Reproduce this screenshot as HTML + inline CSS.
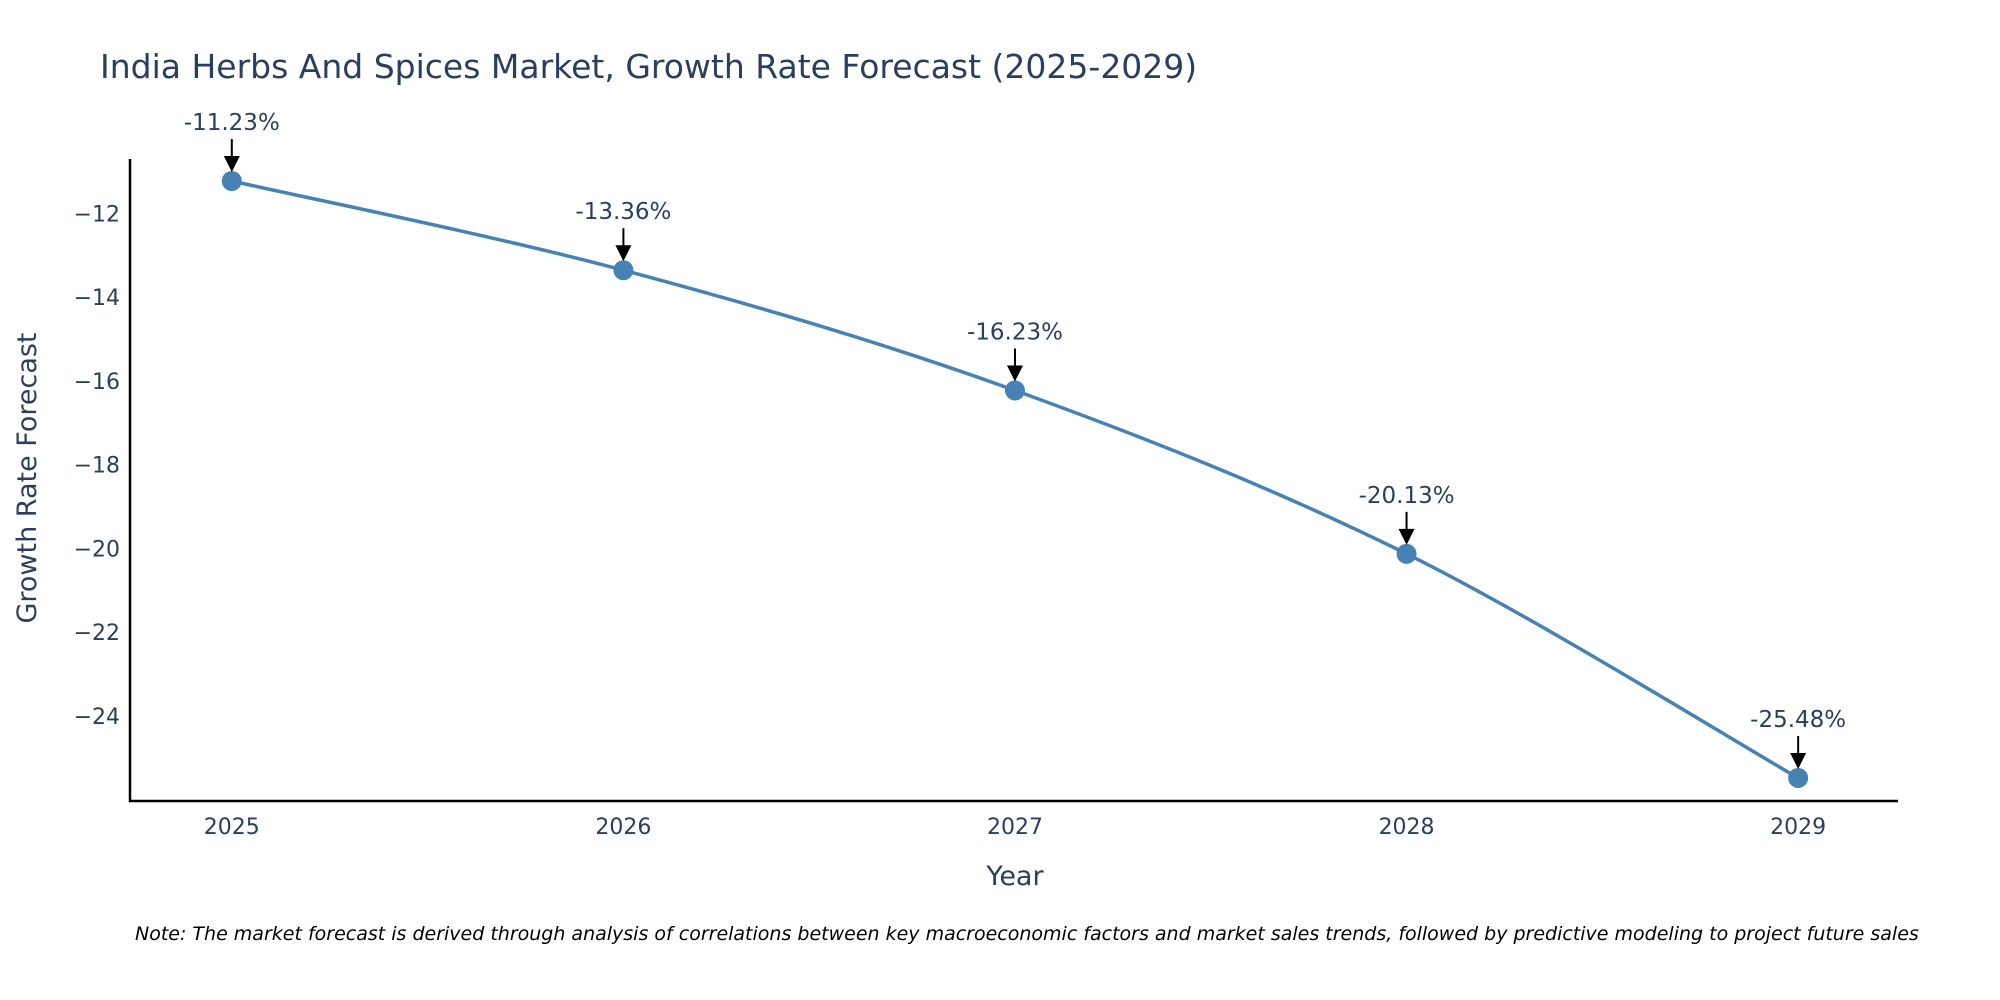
<!DOCTYPE html>
<html><head><meta charset="utf-8"><style>
html,body{margin:0;padding:0;background:#fff;width:2000px;height:1000px;overflow:hidden;font-family:"DejaVu Sans","Liberation Sans",sans-serif;}
svg text{font-family:"DejaVu Sans","Liberation Sans",sans-serif;}
</style></head><body>
<svg id="chart" width="2000" height="1000" xmlns="http://www.w3.org/2000/svg">
<text x="100" y="78" font-size="33" fill="#2a3f5f">India Herbs And Spices Market, Growth Rate Forecast (2025-2029)</text>
<g id="grid"></g>
<g id="marks"></g>
<line x1="130" y1="159" x2="130" y2="802" stroke="#000" stroke-width="2.5"/>
<line x1="129" y1="801" x2="1898" y2="801" stroke="#000" stroke-width="2.5"/>
<text x="1015" y="885" font-size="27" fill="#2a3f5f" text-anchor="middle">Year</text>
<text x="36" y="478" font-size="27" fill="#2a3f5f" text-anchor="middle" transform="rotate(-90 36 478)">Growth Rate Forecast</text>
<text x="135" y="940" font-size="19" font-style="italic" fill="#000">Note: The market forecast is derived through analysis of correlations between key macroeconomic factors and market sales trends, followed by predictive modeling to project future sales</text>
</svg>
<script>
const years = [2025, 2026, 2027, 2028, 2029];
const growth = [-11.23, -13.36, -16.23, -20.13, -25.48];
const labels = ["-11.23%", "-13.36%", "-16.23%", "-20.13%", "-25.48%"];
const yTicks = [-12, -14, -16, -18, -20, -22, -24];

const NS = "http://www.w3.org/2000/svg";
function xs(v){ return 130 + (v - 2024.74) / (2029.255 - 2024.74) * (1898 - 130); }
function ys(v){ return 159 + (-10.705 - v) / (-10.705 - -26.03) * (801 - 159); }
function mk(tag, attrs, parent){ const e=document.createElementNS(NS,tag); for(const k in attrs) e.setAttribute(k,attrs[k]); parent.appendChild(e); return e; }
const grid=document.getElementById('grid'), marks=document.getElementById('marks');

yTicks.forEach(t=>{
  const tx=mk('text',{x:120,y:ys(t)+8,'font-size':22,fill:'#2a3f5f','text-anchor':'end'},grid);
  tx.textContent = '\u2212' + Math.abs(t);
  
  
});
years.forEach(y=>{
  const tx=mk('text',{x:xs(y),y:834,'font-size':22,fill:'#2a3f5f','text-anchor':'middle'},grid);
  tx.textContent = y;
  
  
});

const P = years.map((y,i)=>[xs(y), ys(growth[i])]);
let d = 'M'+P[0][0]+','+P[0][1];
for(let i=0;i<P.length-1;i++){
  const p0=P[Math.max(i-1,0)], p1=P[i], p2=P[i+1], p3=P[Math.min(i+2,P.length-1)];
  const c1=[p1[0]+(p2[0]-p0[0])/6, p1[1]+(p2[1]-p0[1])/6];
  const c2=[p2[0]-(p3[0]-p1[0])/6, p2[1]-(p3[1]-p1[1])/6];
  d += ' C'+c1[0]+','+c1[1]+' '+c2[0]+','+c2[1]+' '+p2[0]+','+p2[1];
}
const line=mk('path',{d:d,fill:'none',stroke:'#4682b4','stroke-width':3.5},marks);



P.forEach((p,i)=>{
  const c=mk('circle',{cx:p[0],cy:p[1],r:10,fill:'#4682b4'},marks);
  
  
  const a=mk('line',{x1:p[0],y1:p[1]-42,x2:p[0],y2:p[1]-22,stroke:'#000','stroke-width':2},marks);
  
  
  const h=mk('polygon',{points:(p[0]-8)+','+(p[1]-25)+' '+(p[0]+8)+','+(p[1]-25)+' '+p[0]+','+(p[1]-9),fill:'#000'},marks);
  
  
  const t=mk('text',{x:p[0],y:p[1]-51,'font-size':23,fill:'#2a3f5f','text-anchor':'middle'},marks);
  t.textContent=labels[i];
  
  
});
</script>
</body></html>
